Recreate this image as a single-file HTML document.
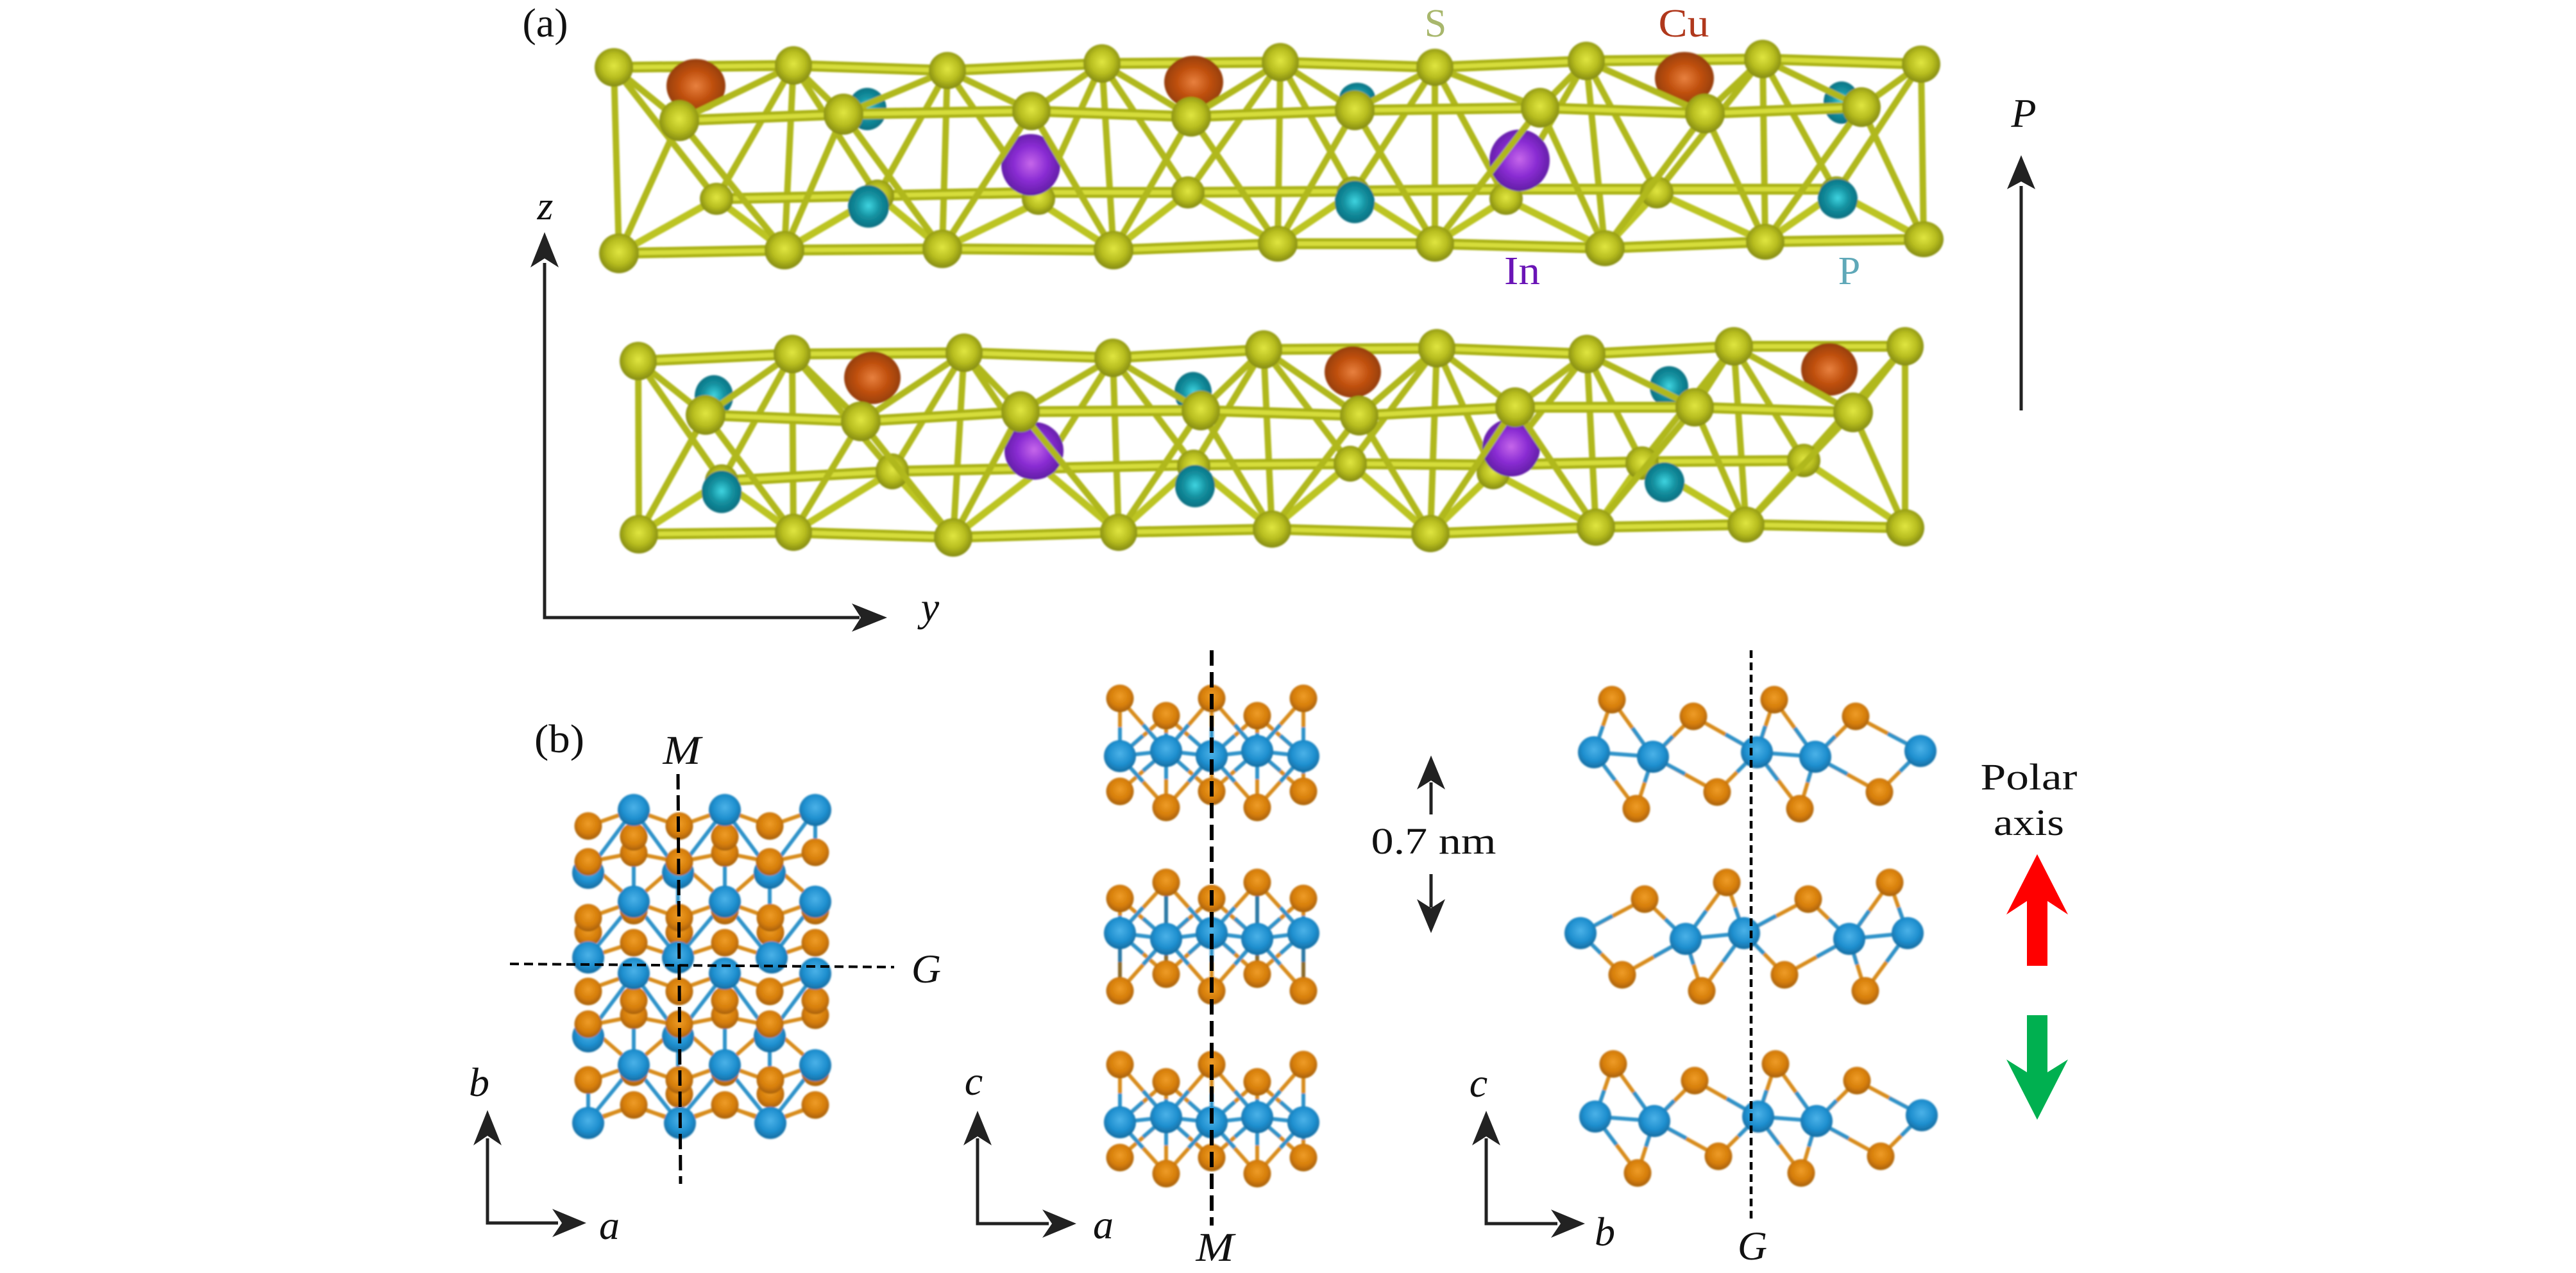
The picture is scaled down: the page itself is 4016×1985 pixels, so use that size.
<!DOCTYPE html>
<html><head><meta charset="utf-8"><style>
html,body{margin:0;padding:0;background:#fff}
svg{display:block}
text{font-family:"Liberation Serif",serif;text-anchor:middle;fill:#111}
.i{font-style:italic;font-size:64px}
.s{fill:url(#gs)}.cu{fill:url(#gc)}.in{fill:url(#gi)}.p{fill:url(#gp)}.bl{fill:url(#gb)}.or{fill:url(#go)}
.bl circle{r:25px}.or circle{r:21.5px}
.row{fill:none;stroke:#aab218;stroke-width:17;stroke-linejoin:round}
.rowh{fill:none;stroke:#d6dd3a;stroke-width:7;stroke-linejoin:round}
.bd{fill:none;stroke:#b0b81c;stroke-width:10;stroke-linejoin:round}
.bdt{fill:none;stroke:#bcc424;stroke-width:11;stroke-linejoin:round}
.bb{fill:none;stroke:#2f93c9;stroke-width:6}
.bo{fill:none;stroke:#d88c1c;stroke-width:6}
.ax{fill:none;stroke:#222;stroke-width:5}
</style></head><body>
<svg xmlns="http://www.w3.org/2000/svg" width="4016" height="1985" viewBox="0 0 4016 1985">
<defs>
<filter id="soft" filterUnits="userSpaceOnUse" x="700" y="0" width="2700" height="1985"><feGaussianBlur stdDeviation="1.3"/></filter>
<radialGradient id="gs" cx=".5" cy=".46" r=".56"><stop offset="0" stop-color="#e0e640"/><stop offset=".55" stop-color="#b8be20"/><stop offset="1" stop-color="#7f860e"/></radialGradient>
<radialGradient id="gc" cx=".5" cy=".5" r=".56"><stop offset="0" stop-color="#e8813f"/><stop offset=".5" stop-color="#c0500e"/><stop offset="1" stop-color="#8c3a08"/></radialGradient>
<radialGradient id="gi" cx=".5" cy=".48" r=".56"><stop offset="0" stop-color="#c667ea"/><stop offset=".5" stop-color="#8b2dd4"/><stop offset="1" stop-color="#5a1a9e"/></radialGradient>
<radialGradient id="gp" cx=".5" cy=".48" r=".56"><stop offset="0" stop-color="#3fd4e0"/><stop offset=".5" stop-color="#13909f"/><stop offset="1" stop-color="#0c6a7c"/></radialGradient>
<radialGradient id="gb" cx=".5" cy=".42" r=".6"><stop offset="0" stop-color="#4bb2e8"/><stop offset=".6" stop-color="#1f8fcf"/><stop offset="1" stop-color="#15699c"/></radialGradient>
<radialGradient id="go" cx=".5" cy=".42" r=".6"><stop offset="0" stop-color="#ee9c28"/><stop offset=".6" stop-color="#d67e08"/><stop offset="1" stop-color="#a15c06"/></radialGradient>
</defs>

<g filter="url(#soft)">
<!-- panel a, upper layer -->
<g>
<path class="bd" d="M957 105L965 395M1237 102L1223 390M1477 110L1469 388M1718 99L1736 390M1996 97L1992 380M2237 105L2237 380M2473 95L2502 387M2748 92L2752 377M2995 100L2999 373"/>
<path class="bd" d="M957 105L1117 310L1237 102L1368 305L1477 110L1619 315L1718 99L1852 300L1996 97L2110 300L2237 105L2348 310L2473 95L2583 300L2748 92L2863 300L2995 100"/>
<path class="row" d="M1117 310L1368 305L1619 300L1852 300L2110 298L2348 295L2583 295L2863 295"/>
<path class="rowh" d="M1117 310L1368 305L1619 300L1852 300L2110 298L2348 295L2583 295L2863 295"/>
<path class="bdt" d="M965 395L1117 310L1223 390L1368 305L1469 388L1619 315L1736 390L1852 300L1992 380L2110 300L2237 380L2348 310L2502 387L2583 300L2752 377L2863 300L2999 373"/>
<path class="row" d="M957 105L1237 102L1477 110L1718 99L1996 97L2237 105L2473 95L2748 92L2995 100"/>
<path class="rowh" d="M957 105L1237 102L1477 110L1718 99L1996 97L2237 105L2473 95L2748 92L2995 100"/>
<g class="s"><ellipse cx="1117" cy="310" rx="26" ry="25"/><ellipse cx="1368" cy="305" rx="26" ry="25"/><ellipse cx="1619" cy="310" rx="26" ry="25"/><ellipse cx="1852" cy="300" rx="26" ry="25"/><ellipse cx="2110" cy="300" rx="26" ry="25"/><ellipse cx="2348" cy="310" rx="26" ry="25"/><ellipse cx="2583" cy="300" rx="26" ry="25"/><ellipse cx="2863" cy="300" rx="26" ry="25"/></g>
<g class="cu"><ellipse cx="1085" cy="134" rx="46" ry="42"/><ellipse cx="1861" cy="128" rx="46" ry="41"/><ellipse cx="2626" cy="122" rx="46" ry="41"/></g>
<g class="p"><ellipse cx="1352" cy="170" rx="30" ry="33"/><ellipse cx="2116" cy="153" rx="28" ry="24"/><ellipse cx="2871" cy="160" rx="28" ry="33"/><ellipse cx="1354" cy="322" rx="32" ry="33"/><ellipse cx="2112" cy="315" rx="31" ry="33"/><ellipse cx="2865" cy="310" rx="31" ry="31"/></g>
<g class="in"><ellipse cx="1607" cy="257" rx="46" ry="48"/><ellipse cx="2369" cy="250" rx="47" ry="48"/></g>
<path class="bd" d="M957 105L1059 188L1237 102L1315 178L1477 110L1608 173L1718 99L1857 182L1996 97L2112 172L2237 105L2401 168L2473 95L2658 177L2748 92L2902 167L2995 100"/>
<path class="bd" d="M965 395L1059 188L1223 390L1315 178L1469 388L1608 173L1736 390L1857 182L1992 380L2112 172L2237 380L2401 168L2502 387L2658 177L2752 377L2902 167L2999 373"/>
<path class="row" d="M1059 188L1315 178L1608 173L1857 182L2112 172L2401 168L2658 177L2902 167"/>
<path class="rowh" d="M1059 188L1315 178L1608 173L1857 182L2112 172L2401 168L2658 177L2902 167"/>
<path class="row" d="M965 395L1223 390L1469 388L1736 390L1992 380L2237 380L2502 387L2752 377L2999 373"/>
<path class="rowh" d="M965 395L1223 390L1469 388L1736 390L1992 380L2237 380L2502 387L2752 377L2999 373"/>
<g class="s">
<ellipse cx="957" cy="105" rx="30" ry="30"/><ellipse cx="1237" cy="102" rx="29" ry="30"/><ellipse cx="1477" cy="110" rx="29" ry="29"/><ellipse cx="1718" cy="99" rx="29" ry="30"/><ellipse cx="1996" cy="97" rx="29" ry="30"/><ellipse cx="2237" cy="105" rx="29" ry="29"/><ellipse cx="2473" cy="95" rx="29" ry="30"/><ellipse cx="2748" cy="92" rx="29" ry="30"/><ellipse cx="2995" cy="100" rx="30" ry="29"/>
<ellipse cx="1059" cy="188" rx="31" ry="32"/><ellipse cx="1315" cy="178" rx="31" ry="32"/><ellipse cx="1608" cy="173" rx="30" ry="30"/><ellipse cx="1857" cy="182" rx="31" ry="31"/><ellipse cx="2112" cy="172" rx="31" ry="31"/><ellipse cx="2401" cy="168" rx="30" ry="31"/><ellipse cx="2658" cy="177" rx="31" ry="31"/><ellipse cx="2902" cy="167" rx="30" ry="31"/>
<ellipse cx="965" cy="395" rx="31" ry="31"/><ellipse cx="1223" cy="390" rx="31" ry="30"/><ellipse cx="1469" cy="388" rx="31" ry="30"/><ellipse cx="1736" cy="390" rx="31" ry="30"/><ellipse cx="1992" cy="380" rx="31" ry="28"/><ellipse cx="2237" cy="380" rx="30" ry="28"/><ellipse cx="2502" cy="387" rx="31" ry="28"/><ellipse cx="2752" cy="377" rx="30" ry="28"/><ellipse cx="2999" cy="373" rx="31" ry="28"/>
</g>
</g>

<!-- panel a, lower layer -->
<g>
<path class="bd" d="M995 563L996 833M1235 552L1237 830M1503 550L1486 838M1735 558L1744 830M1970 545L1983 825M2240 543L2230 832M2474 552L2488 822M2703 540L2722 818M2970 540L2970 823"/>
<path class="bd" d="M995 563L1125 750L1235 552L1391 735L1503 550L1625 730L1735 558L1861 725L1970 545L2105 723L2240 543L2328 737L2474 552L2560 720L2703 540L2812 718L2970 540"/>
<path class="row" d="M1125 750L1391 735L1625 730L1861 725L2105 723L2328 725L2560 720L2812 718"/>
<path class="rowh" d="M1125 750L1391 735L1625 730L1861 725L2105 723L2328 725L2560 720L2812 718"/>
<path class="bdt" d="M996 833L1125 750L1237 830L1391 735L1486 838L1625 730L1744 830L1861 725L1983 825L2105 723L2230 832L2328 737L2488 822L2560 720L2722 818L2812 718L2970 823"/>
<path class="row" d="M995 563L1235 552L1503 550L1735 558L1970 545L2240 543L2474 552L2703 540L2970 540"/>
<path class="rowh" d="M995 563L1235 552L1503 550L1735 558L1970 545L2240 543L2474 552L2703 540L2970 540"/>
<g class="s"><ellipse cx="1125" cy="750" rx="26" ry="26"/><ellipse cx="1391" cy="735" rx="26" ry="28"/><ellipse cx="1861" cy="727" rx="26" ry="26"/><ellipse cx="2105" cy="723" rx="26" ry="28"/><ellipse cx="2328" cy="737" rx="26" ry="26"/><ellipse cx="2560" cy="722" rx="26" ry="26"/><ellipse cx="2812" cy="718" rx="26" ry="26"/></g>
<g class="cu"><ellipse cx="1360" cy="589" rx="44" ry="41"/><ellipse cx="2109" cy="580" rx="44" ry="40"/><ellipse cx="2852" cy="576" rx="44" ry="41"/></g>
<g class="p"><ellipse cx="1113" cy="618" rx="30" ry="33"/><ellipse cx="1125" cy="767" rx="31" ry="33"/><ellipse cx="1860" cy="612" rx="29" ry="32"/><ellipse cx="1863" cy="758" rx="31" ry="33"/><ellipse cx="2602" cy="603" rx="30" ry="32"/><ellipse cx="2595" cy="752" rx="31" ry="31"/></g>
<g class="in"><ellipse cx="1612" cy="703" rx="46" ry="45"/><ellipse cx="2356" cy="698" rx="45" ry="45"/></g>
<path class="bd" d="M995 563L1100 647L1235 552L1342 657L1503 550L1591 642L1735 558L1872 640L1970 545L2119 648L2240 543L2362 635L2474 552L2642 635L2703 540L2889 643L2970 540"/>
<path class="bd" d="M996 833L1100 647L1237 830L1342 657L1486 838L1591 642L1744 830L1872 640L1983 825L2119 648L2230 832L2362 635L2488 822L2642 635L2722 818L2889 643L2970 823"/>
<path class="row" d="M1100 647L1342 657L1591 642L1872 640L2119 648L2362 635L2642 635L2889 643"/>
<path class="rowh" d="M1100 647L1342 657L1591 642L1872 640L2119 648L2362 635L2642 635L2889 643"/>
<path class="row" d="M996 833L1237 830L1486 838L1744 830L1983 825L2230 832L2488 822L2722 818L2970 823"/>
<path class="rowh" d="M996 833L1237 830L1486 838L1744 830L1983 825L2230 832L2488 822L2722 818L2970 823"/>
<g class="s">
<ellipse cx="995" cy="563" rx="29" ry="30"/><ellipse cx="1235" cy="552" rx="29" ry="30"/><ellipse cx="1503" cy="550" rx="29" ry="30"/><ellipse cx="1735" cy="558" rx="29" ry="30"/><ellipse cx="1970" cy="545" rx="29" ry="30"/><ellipse cx="2240" cy="543" rx="29" ry="30"/><ellipse cx="2474" cy="552" rx="29" ry="30"/><ellipse cx="2703" cy="540" rx="30" ry="30"/><ellipse cx="2970" cy="540" rx="29" ry="30"/>
<ellipse cx="1100" cy="647" rx="31" ry="31"/><ellipse cx="1342" cy="657" rx="31" ry="31"/><ellipse cx="1591" cy="642" rx="30" ry="32"/><ellipse cx="1872" cy="640" rx="30" ry="31"/><ellipse cx="2119" cy="648" rx="30" ry="31"/><ellipse cx="2362" cy="635" rx="31" ry="31"/><ellipse cx="2642" cy="635" rx="30" ry="30"/><ellipse cx="2889" cy="643" rx="31" ry="31"/>
<ellipse cx="996" cy="833" rx="30" ry="30"/><ellipse cx="1237" cy="830" rx="29" ry="29"/><ellipse cx="1486" cy="838" rx="30" ry="30"/><ellipse cx="1744" cy="830" rx="29" ry="29"/><ellipse cx="1983" cy="825" rx="30" ry="29"/><ellipse cx="2230" cy="832" rx="30" ry="29"/><ellipse cx="2488" cy="822" rx="30" ry="29"/><ellipse cx="2722" cy="818" rx="29" ry="28"/><ellipse cx="2970" cy="823" rx="30" ry="29"/>
</g>
</g>

<!-- panel b1 -->
<g id="b1u">
<path class="bb" d="M988 1263L917 1358M988 1263L1057 1358M1130 1263L1057 1358M1130 1263L1200 1358M1271 1263L1200 1358M988 1406L917 1493M988 1406L1057 1493M1130 1406L1057 1493M1130 1406L1200 1493M1271 1406L1203 1493M988 1330L988 1406M1130 1330L1130 1406M1271 1263L1271 1329M1200 1358V1431M1057 1358V1431"/>
<path class="bo" d="M988 1263L917 1288M988 1263L1059 1288M1130 1263L1059 1288M1130 1263L1200 1288M1271 1263L1200 1288M917 1344L988 1330M1059 1344L988 1330M1059 1344L1130 1330M1200 1344L1130 1330M1200 1344L1271 1329M917 1344L988 1406M1059 1344L988 1406M1059 1344L1130 1406M1200 1344L1130 1406M1200 1344L1271 1406M917 1431L988 1406M1059 1431L988 1406M1059 1431L1130 1406M1200 1431L1130 1406M1200 1431L1271 1406M917 1493L988 1470M1059 1493L988 1470M1059 1493L1130 1470M1203 1493L1130 1470M1203 1493L1271 1470"/>
</g>
<use href="#b1u" transform="translate(0,255)"/>
<path class="bb" d="M917 1684V1751M1059 1706L1060 1751M1201 1706V1751"/>
<path class="bo" d="M917 1751L988 1723M1060 1751L988 1723M1060 1751L1130 1723M1201 1751L1130 1723M1201 1751L1271 1723"/>
<g class="bl"><circle cx="917" cy="1361" r="25"/><circle cx="1057" cy="1361" r="25"/><circle cx="1200" cy="1361" r="25"/><circle cx="917" cy="1616" r="25"/><circle cx="1057" cy="1616" r="25"/><circle cx="1200" cy="1616" r="25"/></g>
<g class="or">
<circle cx="917" cy="1288" r="21"/><circle cx="1059" cy="1288" r="21"/><circle cx="1200" cy="1288" r="21"/>
<circle cx="988" cy="1330" r="21"/><circle cx="1130" cy="1330" r="21"/><circle cx="1271" cy="1329" r="21"/><circle cx="988" cy="1305" r="21"/><circle cx="1130" cy="1305" r="21"/>
<circle cx="917" cy="1344" r="21"/><circle cx="1059" cy="1344" r="21"/><circle cx="1200" cy="1344" r="21"/>
<circle cx="988" cy="1420" r="21"/><circle cx="1130" cy="1420" r="21"/><circle cx="1271" cy="1420" r="21"/>
<circle cx="917" cy="1454" r="21"/><circle cx="1059" cy="1454" r="21"/><circle cx="1201" cy="1454" r="21"/>
<circle cx="917" cy="1431" r="21"/><circle cx="1059" cy="1431" r="21"/><circle cx="1201" cy="1431" r="21"/>
<circle cx="988" cy="1470" r="21"/><circle cx="1130" cy="1470" r="21"/><circle cx="1271" cy="1470" r="21"/>
<circle cx="917" cy="1546" r="21"/><circle cx="1059" cy="1546" r="21"/><circle cx="1200" cy="1546" r="21"/>
<circle cx="988" cy="1583" r="21"/><circle cx="1130" cy="1583" r="21"/><circle cx="1271" cy="1583" r="21"/>
<circle cx="988" cy="1560" r="21"/><circle cx="1130" cy="1560" r="21"/><circle cx="1271" cy="1560" r="21"/>
<circle cx="917" cy="1597" r="21"/><circle cx="1059" cy="1597" r="21"/><circle cx="1200" cy="1597" r="21"/>
<circle cx="988" cy="1672" r="21"/><circle cx="1130" cy="1672" r="21"/><circle cx="1271" cy="1672" r="21"/>
<circle cx="917" cy="1684" r="21"/><circle cx="1059" cy="1706" r="21"/><circle cx="1201" cy="1706" r="21"/><circle cx="1059" cy="1684" r="21"/><circle cx="1201" cy="1684" r="21"/>
<circle cx="988" cy="1723" r="21"/><circle cx="1130" cy="1723" r="21"/><circle cx="1271" cy="1723" r="21"/>
</g>
<g class="bl">
<circle cx="988" cy="1263" r="25"/><circle cx="1130" cy="1263" r="25"/><circle cx="1271" cy="1263" r="25"/>
<circle cx="988" cy="1406" r="25"/><circle cx="1130" cy="1406" r="25"/><circle cx="1271" cy="1406" r="25"/>
<circle cx="917" cy="1493" r="25"/><circle cx="1057" cy="1493" r="25"/><circle cx="1203" cy="1493" r="25"/>
<circle cx="988" cy="1518" r="25"/><circle cx="1130" cy="1518" r="25"/><circle cx="1271" cy="1518" r="25"/>
<circle cx="988" cy="1661" r="25"/><circle cx="1130" cy="1661" r="25"/><circle cx="1271" cy="1661" r="25"/>
<circle cx="917" cy="1751" r="25"/><circle cx="1060" cy="1751" r="25"/><circle cx="1201" cy="1751" r="25"/>
</g>

<!-- panel b2 -->
<g id="l1">
<path class="bo" d="M1746 1089V1179M1746 1089L1818 1171M1818 1116L1746 1179M1818 1116V1171M1818 1116L1889 1179M1889 1089L1818 1171M1889 1089V1179M1889 1089L1960 1171M1960 1116L1889 1179M1960 1116V1171M1960 1116L2032 1179M2032 1089L1960 1171M2032 1089V1179M1746 1234L1818 1171M1818 1259L1746 1179M1818 1259V1171M1818 1259L1889 1179M1889 1234L1818 1171M1889 1234V1179M1889 1234L1960 1171M1960 1259L1889 1179M1960 1259V1171M1960 1259L2032 1179M2032 1234L1960 1171M2032 1234V1179"/>
<path class="bb" d="M1746 1179L1818 1171L1889 1179L1960 1171L2032 1179M1746 1179V1134M1818 1171L1782 1130M1746 1179L1782 1147M1818 1171V1143M1889 1179L1853 1147M1818 1171L1853 1130M1889 1179V1134M1960 1171L1925 1130M1889 1179L1925 1147M1960 1171V1143M2032 1179L1996 1147M1960 1171L1996 1130M2032 1179V1134M1818 1171L1782 1202M1746 1179L1782 1219M1818 1171V1215M1889 1179L1853 1219M1818 1171L1853 1202M1889 1179V1206M1960 1171L1925 1202M1889 1179L1925 1219M1960 1171V1215M2032 1179L1996 1219M1960 1171L1996 1202M2032 1179V1206"/>
<g class="or"><circle cx="1746" cy="1089" r="21"/><circle cx="1818" cy="1116" r="21"/><circle cx="1889" cy="1089" r="21"/><circle cx="1960" cy="1116" r="21"/><circle cx="2032" cy="1089" r="21"/><circle cx="1746" cy="1234" r="21"/><circle cx="1818" cy="1259" r="21"/><circle cx="1889" cy="1234" r="21"/><circle cx="1960" cy="1259" r="21"/><circle cx="2032" cy="1234" r="21"/></g>
<g class="bl"><circle cx="1746" cy="1179" r="25"/><circle cx="1818" cy="1171" r="25"/><circle cx="1889" cy="1179" r="25"/><circle cx="1960" cy="1171" r="25"/><circle cx="2032" cy="1179" r="25"/></g>
</g>
<use href="#l1" transform="translate(0,571)"/>
<path class="bo" d="M1746 1401V1455M1746 1401L1818 1464M1818 1376L1746 1455M1818 1376L1889 1455M1889 1401L1818 1464M1889 1401V1455M1889 1401L1960 1464M1960 1376L1889 1455M1960 1376L2032 1455M2032 1401L1960 1464M2032 1401V1455M1746 1545L1818 1464M1818 1519L1746 1455M1818 1519L1889 1455M1889 1545L1818 1464M1889 1545V1455M1889 1545L1960 1464M1960 1519L1889 1455M1960 1519L2032 1455M2032 1545L1960 1464"/>
<path class="bb" d="M1746 1455L1818 1464L1889 1455L1960 1464L2032 1455M1746 1455V1428M1818 1464L1782 1432M1746 1455L1782 1415M1889 1455L1853 1415M1818 1464L1853 1432M1889 1455V1428M1960 1464L1925 1432M1889 1455L1925 1415M2032 1455L1996 1415M1960 1464L1996 1432M2032 1455V1428M1818 1464L1782 1504M1746 1455L1782 1487M1889 1455L1853 1487M1818 1464L1853 1504M1889 1455V1500M1960 1464L1925 1504M1889 1455L1925 1487M2032 1455L1996 1487M1960 1464L1996 1504"/>
<path d="M1818 1376V1519M1960 1376V1519M1746 1455V1500M2032 1455V1500" fill="none" stroke="#2a78a4" stroke-width="6"/>
<path d="M1746 1500V1545M2032 1500V1545M1818 1490V1519M1960 1490V1519" fill="none" stroke="#8a6a2a" stroke-width="6"/>
<g class="or"><circle cx="1746" cy="1401" r="21"/><circle cx="1818" cy="1376" r="21"/><circle cx="1889" cy="1401" r="21"/><circle cx="1960" cy="1376" r="21"/><circle cx="2032" cy="1401" r="21"/><circle cx="1746" cy="1545" r="21"/><circle cx="1818" cy="1519" r="21"/><circle cx="1889" cy="1545" r="21"/><circle cx="1960" cy="1519" r="21"/><circle cx="2032" cy="1545" r="21"/></g>
<g class="bl"><circle cx="1746" cy="1455" r="25"/><circle cx="1818" cy="1464" r="25"/><circle cx="1889" cy="1455" r="25"/><circle cx="1960" cy="1464" r="25"/><circle cx="2032" cy="1455" r="25"/></g>

<!-- panel b3 -->
<g id="l3">
<path class="bo" d="M2485 1173L2513 1091L2577 1180M2485 1173L2551 1261L2577 1180M2577 1180L2640 1117L2739 1173M2577 1180L2677 1235L2739 1173M2739 1173L2766 1091L2830 1180M2739 1173L2806 1261L2830 1180M2830 1180L2893 1117L2994 1171M2830 1180L2930 1235L2994 1171"/>
<path class="bb" d="M2485 1173L2577 1180M2739 1173L2830 1180M2485 1173L2499 1132M2577 1180L2545 1135M2485 1173L2518 1217M2577 1180L2564 1220M2577 1180L2608 1148M2739 1173L2690 1145M2577 1180L2627 1207M2739 1173L2708 1204M2739 1173L2752 1132M2830 1180L2798 1135M2739 1173L2772 1217M2830 1180L2818 1220M2830 1180L2861 1148M2994 1171L2943 1144M2830 1180L2880 1207M2994 1171L2962 1203"/>
<g class="or"><circle cx="2513" cy="1091" r="21"/><circle cx="2640" cy="1117" r="21"/><circle cx="2766" cy="1091" r="21"/><circle cx="2893" cy="1117" r="21"/><circle cx="2551" cy="1261" r="21"/><circle cx="2677" cy="1235" r="21"/><circle cx="2806" cy="1261" r="21"/><circle cx="2930" cy="1235" r="21"/></g>
<g class="bl"><circle cx="2485" cy="1173" r="25"/><circle cx="2577" cy="1180" r="25"/><circle cx="2739" cy="1173" r="25"/><circle cx="2830" cy="1180" r="25"/><circle cx="2994" cy="1171" r="25"/></g>
</g>
<use href="#l3" transform="translate(2,568)"/>
<path class="bo" d="M2464 1455L2564 1402L2628 1464M2464 1455L2529 1520L2628 1464M2628 1464L2692 1376L2719 1455M2628 1464L2653 1545L2719 1455M2719 1455L2819 1402L2883 1464M2719 1455L2782 1520L2883 1464M2883 1464L2946 1376L2974 1455M2883 1464L2908 1545L2974 1455"/>
<path class="bb" d="M2628 1464L2719 1455M2883 1464L2974 1455M2464 1455L2514 1428M2628 1464L2596 1433M2464 1455L2496 1487M2628 1464L2578 1492M2628 1464L2660 1420M2719 1455L2705 1415M2628 1464L2640 1504M2719 1455L2686 1500M2719 1455L2769 1428M2883 1464L2851 1433M2719 1455L2750 1487M2883 1464L2832 1492M2883 1464L2914 1420M2974 1455L2960 1415M2883 1464L2895 1504M2974 1455L2941 1500"/>
<g class="or"><circle cx="2564" cy="1402" r="21"/><circle cx="2692" cy="1376" r="21"/><circle cx="2819" cy="1402" r="21"/><circle cx="2946" cy="1376" r="21"/><circle cx="2529" cy="1520" r="21"/><circle cx="2653" cy="1545" r="21"/><circle cx="2782" cy="1520" r="21"/><circle cx="2908" cy="1545" r="21"/></g>
<g class="bl"><circle cx="2464" cy="1455" r="25"/><circle cx="2628" cy="1464" r="25"/><circle cx="2719" cy="1455" r="25"/><circle cx="2883" cy="1464" r="25"/><circle cx="2974" cy="1455" r="25"/></g>
</g>

<!-- dashed axes -->
<path d="M1057 1207L1061 1846" fill="none" stroke="#000" stroke-width="5" stroke-dasharray="24 9"/>
<path d="M795 1503L1394 1508" fill="none" stroke="#000" stroke-width="4" stroke-dasharray="14 8"/>
<path d="M1889 1014V1911" fill="none" stroke="#000" stroke-width="6" stroke-dasharray="24 10"/>
<path d="M2730 1014V1905" fill="none" stroke="#000" stroke-width="4.5" stroke-dasharray="12 7"/>

<!-- panel a text and axes -->
<text x="850" y="57" style="font-size:64px">(a)</text>
<text x="2238" y="57" style="font-size:62px;fill:#a8b76c">S</text>
<text x="2625" y="57" style="font-size:62px;fill:#b0381c" textLength="79" lengthAdjust="spacingAndGlyphs">Cu</text>
<text x="2373" y="443" style="font-size:62px;fill:#6a14b6" textLength="56" lengthAdjust="spacingAndGlyphs">In</text>
<text x="2883" y="443" style="font-size:62px;fill:#5fa8b8">P</text>
<text class="i" x="850" y="342">z</text>
<text class="i" x="1450" y="968">y</text>
<text class="i" x="3155" y="198">P</text>
<path class="ax" d="M849 410V963H1340"/>
<polygon fill="#222" points="849,362 827,417 849,403 871,417"/>
<polygon fill="#222" points="1383,963 1328,941 1342,963 1328,985"/>
<path class="ax" d="M3151 290V640"/>
<polygon fill="#222" points="3151,242 3129,295 3151,283 3173,295"/>

<!-- b1 text and axes -->
<text x="872" y="1173" style="font-size:62px" textLength="78" lengthAdjust="spacingAndGlyphs">(b)</text>
<text class="i" x="1063" y="1191" textLength="59" lengthAdjust="spacingAndGlyphs">M</text>
<text class="i" x="1444" y="1532">G</text>
<text class="i" x="747" y="1709">b</text>
<text class="i" x="950" y="1932">a</text>
<path class="ax" d="M760 1775V1907H870"/>
<polygon fill="#222" points="760,1731 738,1786 760,1771 782,1786"/>
<polygon fill="#222" points="914,1907 861,1885 876,1907 861,1929"/>

<!-- b2 text and axes -->
<text class="i" x="1894" y="1966" textLength="59" lengthAdjust="spacingAndGlyphs">M</text>
<text class="i" x="1518" y="1707">c</text>
<text class="i" x="1720" y="1931">a</text>
<path class="ax" d="M1524 1775V1908H1635"/>
<polygon fill="#222" points="1524,1732 1502,1786 1524,1772 1546,1786"/>
<polygon fill="#222" points="1678,1908 1625,1886 1640,1908 1625,1930"/>
<path class="ax" d="M2231 1220V1270M2231 1363V1415"/>
<polygon fill="#222" points="2231,1178 2209,1231 2231,1217 2253,1231"/>
<polygon fill="#222" points="2231,1455 2209,1402 2231,1416 2253,1402"/>
<text x="2235" y="1331" style="font-size:58px" textLength="195" lengthAdjust="spacingAndGlyphs">0.7 nm</text>

<!-- b3 text and axes -->
<text class="i" x="2732" y="1964">G</text>
<text class="i" x="2305" y="1710">c</text>
<text class="i" x="2502" y="1942">b</text>
<path class="ax" d="M2317 1775V1908H2428"/>
<polygon fill="#222" points="2317,1732 2295,1786 2317,1772 2339,1786"/>
<polygon fill="#222" points="2471,1908 2418,1886 2433,1908 2418,1930"/>
<text x="3163" y="1231" style="font-size:58px" textLength="151" lengthAdjust="spacingAndGlyphs">Polar</text>
<text x="3163" y="1302" style="font-size:58px" textLength="110" lengthAdjust="spacingAndGlyphs">axis</text>
<polygon fill="#ff0000" points="3176,1332 3224,1426 3192,1405 3192,1506 3160,1506 3160,1405 3128,1426"/>
<polygon fill="#00b050" points="3176,1746 3224,1652 3192,1672 3192,1583 3160,1583 3160,1672 3128,1652"/>
</svg>
</body></html>
